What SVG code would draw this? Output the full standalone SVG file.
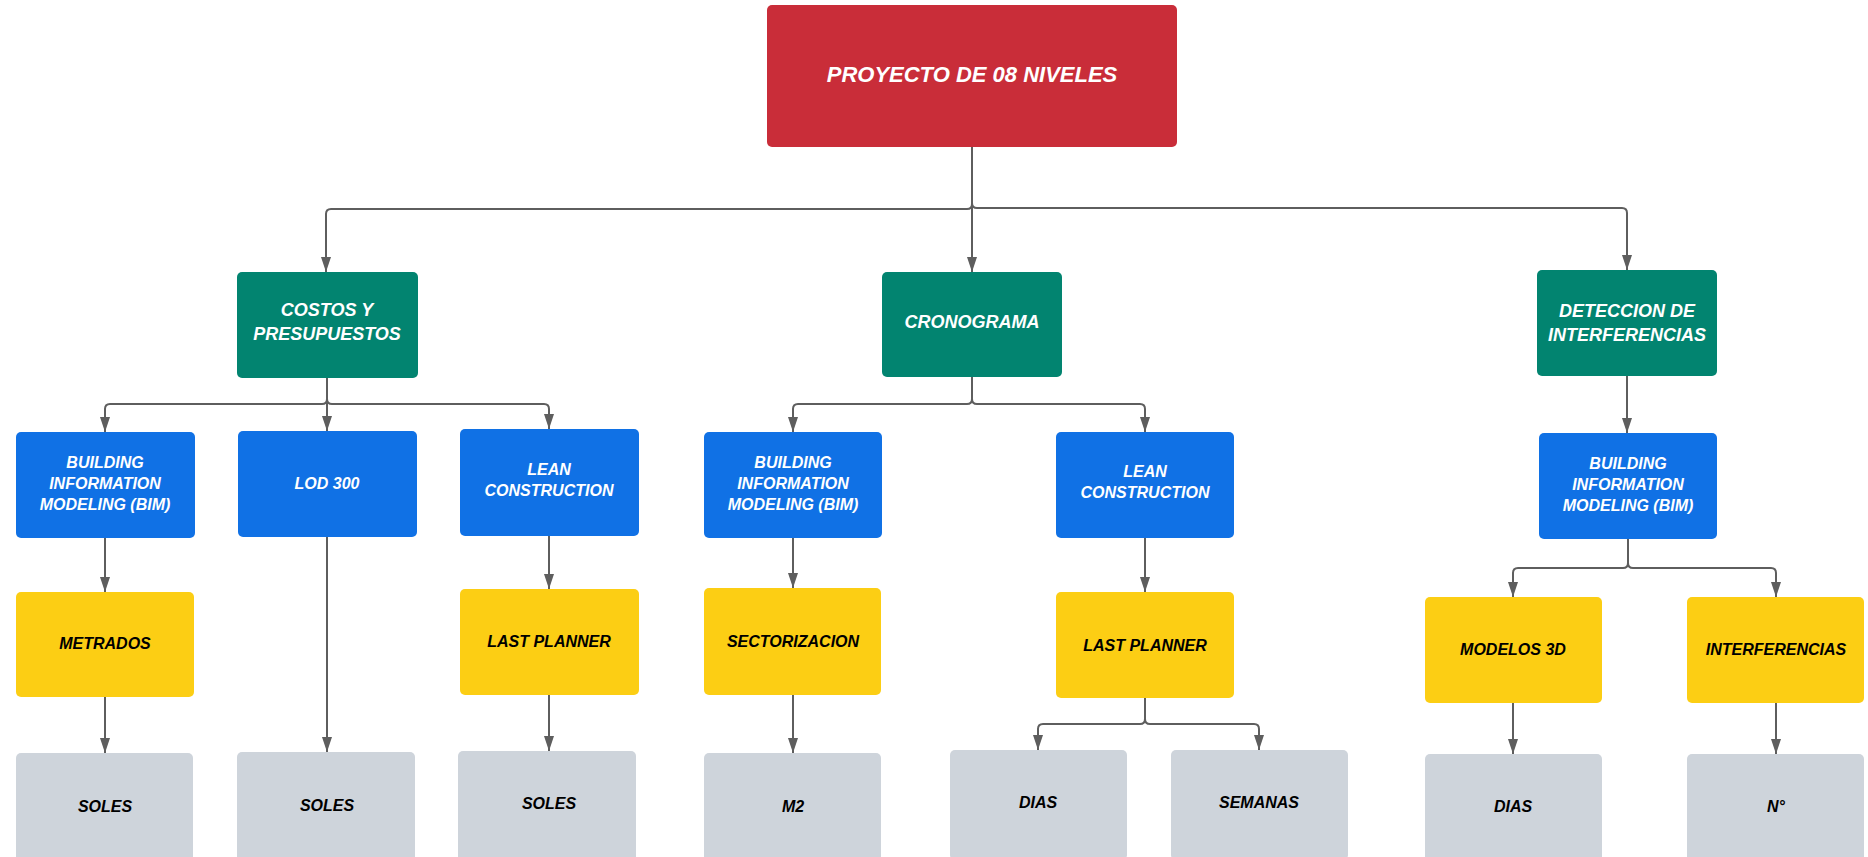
<svg xmlns="http://www.w3.org/2000/svg" width="1868" height="857" viewBox="0 0 1868 857">
<defs>
<style>
.n{stroke:none}
.red{fill:#C92D39}
.grn{fill:#028470}
.blu{fill:#1071E5}
.yel{fill:#FCCE14}
.gry{fill:#CED4DB}
text{font-family:"Liberation Sans",Arial,sans-serif;font-style:italic;font-weight:bold;text-anchor:middle}
.w{fill:#FFFFFF}
.k{fill:#000000}
.t0{font-size:22px}
.t1{font-size:18px}
.t2{font-size:16px}
.t3{font-size:16px}
.c{fill:none;stroke:#5E5E5E;stroke-width:2}
</style>
<marker id="ah" viewBox="0 0 15 10" markerWidth="15" markerHeight="10" refX="15" refY="5" orient="auto" markerUnits="userSpaceOnUse">
<path d="M0,0 L15,5 L0,10 z" fill="#5E5E5E"/>
</marker>
</defs>
<rect width="1868" height="857" fill="#FFFFFF"/>
<g id="connectors">
<path class="c" marker-end="url(#ah)" d="M972,147 V204 Q972,209 967,209 H331 Q326,209 326,214 V272"/>
<path class="c" marker-end="url(#ah)" d="M972,147 V272"/>
<path class="c" marker-end="url(#ah)" d="M972,147 V203 Q972,208 977,208 H1622 Q1627,208 1627,213 V270"/>
<path class="c" marker-end="url(#ah)" d="M327,378 V399 Q327,404 322,404 H110 Q105,404 105,409 V432"/>
<path class="c" marker-end="url(#ah)" d="M327,378 V431"/>
<path class="c" marker-end="url(#ah)" d="M327,378 V399 Q327,404 332,404 H544 Q549,404 549,409 V429"/>
<path class="c" marker-end="url(#ah)" d="M972,377 V399 Q972,404 967,404 H798 Q793,404 793,409 V432"/>
<path class="c" marker-end="url(#ah)" d="M972,377 V399 Q972,404 977,404 H1140 Q1145,404 1145,409 V432"/>
<path class="c" marker-end="url(#ah)" d="M1627,376 V433"/>
<path class="c" marker-end="url(#ah)" d="M105,538 V592"/>
<path class="c" marker-end="url(#ah)" d="M549,536 V589"/>
<path class="c" marker-end="url(#ah)" d="M793,538 V588"/>
<path class="c" marker-end="url(#ah)" d="M1145,538 V592"/>
<path class="c" marker-end="url(#ah)" d="M1628,539 V563 Q1628,568 1623,568 H1518 Q1513,568 1513,573 V597"/>
<path class="c" marker-end="url(#ah)" d="M1628,539 V563 Q1628,568 1633,568 H1771 Q1776,568 1776,573 V597"/>
<path class="c" marker-end="url(#ah)" d="M105,697 V753"/>
<path class="c" marker-end="url(#ah)" d="M327,537 V752"/>
<path class="c" marker-end="url(#ah)" d="M549,695 V751"/>
<path class="c" marker-end="url(#ah)" d="M793,695 V753"/>
<path class="c" marker-end="url(#ah)" d="M1145,698 V719 Q1145,724 1140,724 H1043 Q1038,724 1038,729 V750"/>
<path class="c" marker-end="url(#ah)" d="M1145,698 V719 Q1145,724 1150,724 H1254 Q1259,724 1259,729 V750"/>
<path class="c" marker-end="url(#ah)" d="M1513,703 V754"/>
<path class="c" marker-end="url(#ah)" d="M1776,703 V754"/>
</g>
<g id="root"><rect class="red" x="767" y="5" width="410" height="142" rx="5"/><text class="w t0" x="972" y="82">PROYECTO DE 08 NIVELES</text></g>
<g id="costos"><rect class="grn" x="237" y="272" width="181" height="106" rx="5"/><text class="w t1" x="327" y="316">COSTOS Y</text><text class="w t1" x="327" y="340">PRESUPUESTOS</text></g>
<g id="cronograma"><rect class="grn" x="882" y="272" width="180" height="105" rx="5"/><text class="w t1" x="972" y="328">CRONOGRAMA</text></g>
<g id="deteccion"><rect class="grn" x="1537" y="270" width="180" height="106" rx="5"/><text class="w t1" x="1627" y="317">DETECCION DE</text><text class="w t1" x="1627" y="341">INTERFERENCIAS</text></g>
<g id="bim1"><rect class="blu" x="16" y="432" width="179" height="106" rx="5"/><text class="w t2" x="105" y="468">BUILDING</text><text class="w t2" x="105" y="489">INFORMATION</text><text class="w t2" x="105" y="510">MODELING (BIM)</text></g>
<g id="lod300"><rect class="blu" x="238" y="431" width="179" height="106" rx="5"/><text class="w t2" x="327" y="489">LOD 300</text></g>
<g id="lean1"><rect class="blu" x="460" y="429" width="179" height="107" rx="5"/><text class="w t2" x="549" y="475">LEAN</text><text class="w t2" x="549" y="496">CONSTRUCTION</text></g>
<g id="bim2"><rect class="blu" x="704" y="432" width="178" height="106" rx="5"/><text class="w t2" x="793" y="468">BUILDING</text><text class="w t2" x="793" y="489">INFORMATION</text><text class="w t2" x="793" y="510">MODELING (BIM)</text></g>
<g id="lean2"><rect class="blu" x="1056" y="432" width="178" height="106" rx="5"/><text class="w t2" x="1145" y="477">LEAN</text><text class="w t2" x="1145" y="498">CONSTRUCTION</text></g>
<g id="bim3"><rect class="blu" x="1539" y="433" width="178" height="106" rx="5"/><text class="w t2" x="1628" y="469">BUILDING</text><text class="w t2" x="1628" y="490">INFORMATION</text><text class="w t2" x="1628" y="511">MODELING (BIM)</text></g>
<g id="metrados"><rect class="yel" x="16" y="592" width="178" height="105" rx="5"/><text class="k t3" x="105" y="649">METRADOS</text></g>
<g id="lastplanner1"><rect class="yel" x="460" y="589" width="179" height="106" rx="5"/><text class="k t3" x="549" y="647">LAST PLANNER</text></g>
<g id="sectorizacion"><rect class="yel" x="704" y="588" width="177" height="107" rx="5"/><text class="k t3" x="793" y="647">SECTORIZACION</text></g>
<g id="lastplanner2"><rect class="yel" x="1056" y="592" width="178" height="106" rx="5"/><text class="k t3" x="1145" y="651">LAST PLANNER</text></g>
<g id="modelos3d"><rect class="yel" x="1425" y="597" width="177" height="106" rx="5"/><text class="k t3" x="1513" y="655">MODELOS 3D</text></g>
<g id="interferencias"><rect class="yel" x="1687" y="597" width="177" height="106" rx="5"/><text class="k t3" x="1776" y="655">INTERFERENCIAS</text></g>
<g id="soles1"><rect class="gry" x="16" y="753" width="177" height="110" rx="5"/><text class="k t3" x="105" y="812">SOLES</text></g>
<g id="soles2"><rect class="gry" x="237" y="752" width="178" height="110" rx="5"/><text class="k t3" x="327" y="811">SOLES</text></g>
<g id="soles3"><rect class="gry" x="458" y="751" width="178" height="110" rx="5"/><text class="k t3" x="549" y="809">SOLES</text></g>
<g id="m2"><rect class="gry" x="704" y="753" width="177" height="110" rx="5"/><text class="k t3" x="793" y="812">M2</text></g>
<g id="dias1"><rect class="gry" x="950" y="750" width="177" height="110" rx="5"/><text class="k t3" x="1038" y="808">DIAS</text></g>
<g id="semanas"><rect class="gry" x="1171" y="750" width="177" height="110" rx="5"/><text class="k t3" x="1259" y="808">SEMANAS</text></g>
<g id="dias2"><rect class="gry" x="1425" y="754" width="177" height="110" rx="5"/><text class="k t3" x="1513" y="812">DIAS</text></g>
<g id="numero"><rect class="gry" x="1687" y="754" width="177" height="110" rx="5"/><text class="k t3" x="1776" y="812">N°</text></g>
</svg>
